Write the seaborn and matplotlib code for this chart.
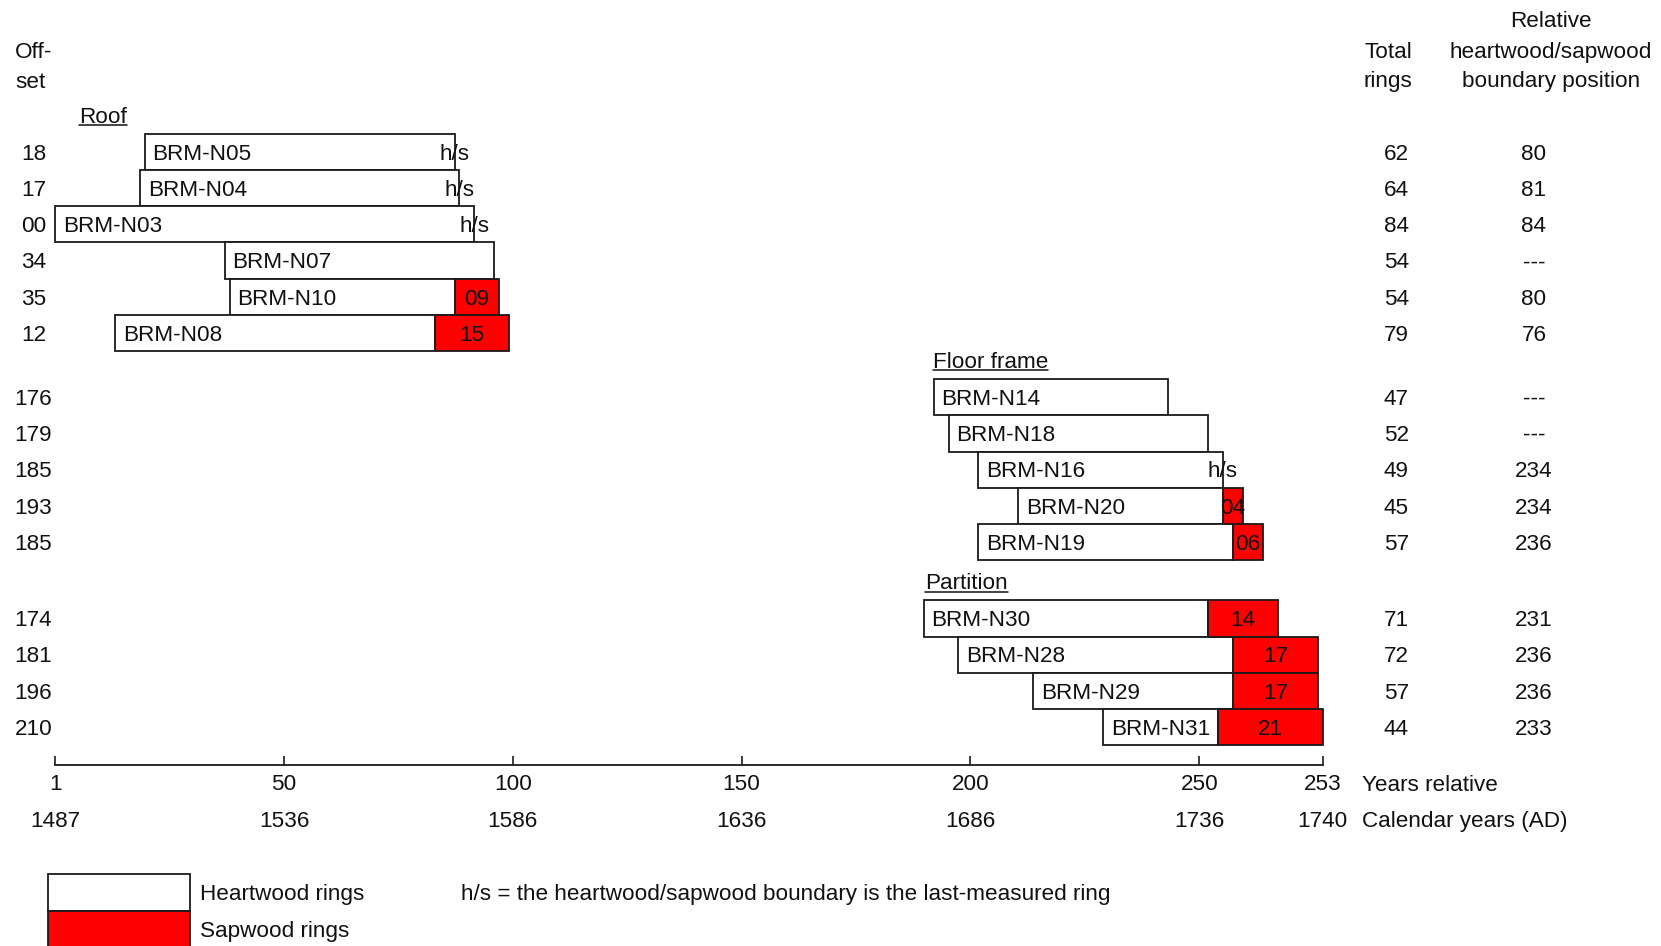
import matplotlib
matplotlib.use("Agg")
import matplotlib.pyplot as plt
from matplotlib.patches import Rectangle
import seaborn as sns

# ---------------- data ----------------
samples = ["BRM-N05", "BRM-N04", "BRM-N03", "BRM-N07", "BRM-N10", "BRM-N08",
           "BRM-N14", "BRM-N18", "BRM-N16", "BRM-N20", "BRM-N19",
           "BRM-N30", "BRM-N28", "BRM-N29", "BRM-N31"]
groups = ["Roof"] * 6 + ["Floor frame"] * 5 + ["Partition"] * 4
offsets = [18, 17, 0, 34, 35, 12, 176, 179, 185, 193, 185, 174, 181, 196, 210]
total_rings = [62, 64, 84, 54, 54, 79, 47, 52, 49, 45, 57, 71, 72, 57, 44]
sapwood_rings = [0, 0, 0, 0, 9, 15, 0, 0, 0, 4, 6, 14, 17, 17, 21]
hs_last_ring = [True, True, True, False, False, False,
                False, False, True, False, False,
                False, False, False, False]
boundary_pos = ["80", "81", "84", "---", "80", "76",
                "---", "---", "234", "234", "236",
                "231", "236", "236", "233"]
rel_tick_labels = ["1", "50", "100", "150", "200", "250", "253"]
cal_tick_labels = ["1487", "1536", "1586", "1636", "1686", "1736", "1740"]

# ---------------- layout ----------------
W, H = 1661, 946
PX = 4.99          # pixels per ring
X0 = 55.3          # pixel of relative year origin
AXIS_Y = 765
ROW_H = 36.25
group_order = ["Roof", "Floor frame", "Partition"]
group_top = {"Roof": 133.7, "Floor frame": 379.0, "Partition": 600.3}
group_head_x = {"Roof": 78.7, "Floor frame": 933.0, "Partition": 925.0}
tick_pos = [0, 45.85, 91.7, 137.55, 183.4, 229.25, 254]
FS = 16.2
BL = 7.8  # baseline offset below a row centre
RED = "#ff0000"
EDGE = "#1a1a1a"

sns.set_theme(style="white")
plt.rcParams["font.family"] = ["Liberation Sans", "DejaVu Sans"]

fig = plt.figure(figsize=(W / 100, H / 100), dpi=100)
ax = fig.add_axes([0, 0, 1, 1])
ax.set_xlim(-X0 / PX, (W - X0) / PX)
ax.set_ylim(H, 0)
ax.set_facecolor("white")

# row centres
ys = []
counter = {g: 0 for g in group_order}
for g in groups:
    ys.append(group_top[g] + ROW_H * (counter[g] + 0.5))
    counter[g] += 1

heart = [t - s for t, s in zip(total_rings, sapwood_rings)]
sap_left = [o + h for o, h in zip(offsets, heart)]

ax.barh(ys, heart, left=offsets, height=ROW_H, color="white",
        edgecolor=EDGE, linewidth=1.3, zorder=2)
sap_idx = [i for i, s in enumerate(sapwood_rings) if s > 0]
ax.barh([ys[i] for i in sap_idx], [sapwood_rings[i] for i in sap_idx],
        left=[sap_left[i] for i in sap_idx], height=ROW_H, color=RED,
        edgecolor=EDGE, linewidth=1.3, zorder=2)

for i, name in enumerate(samples):
    ax.text(offsets[i] + 7.5 / PX, ys[i] + BL, name, ha="left", va="baseline",
            fontsize=FS, color="#111111", zorder=3)
    if sapwood_rings[i] > 0:
        ax.text(sap_left[i] + sapwood_rings[i] / 2, ys[i] + BL,
                f"{sapwood_rings[i]:02d}", ha="center", va="baseline",
                fontsize=FS, color="#111111", zorder=3)
    if hs_last_ring[i]:
        ax.text(offsets[i] + total_rings[i], ys[i] + BL, "h/s", ha="center",
                va="baseline", fontsize=FS, color="#111111", zorder=3)

# x axis
for s in ["top", "left", "right"]:
    ax.spines[s].set_visible(False)
ax.spines["bottom"].set_position(("data", AXIS_Y))
ax.spines["bottom"].set_bounds(0, 254)
ax.spines["bottom"].set_color(EDGE)
ax.spines["bottom"].set_linewidth(1.3)
ax.set_yticks([])
ax.set_xticks(tick_pos, labels=rel_tick_labels)
ax.tick_params(axis="x", direction="in", length=6.5, width=1.2, color=EDGE,
               labelsize=FS, labelcolor="#111111", pad=6.6, bottom=True)
for p, lab in zip(tick_pos, cal_tick_labels):
    ax.text(p, 819 + BL, lab, ha="center", va="baseline", fontsize=FS,
            color="#111111")

# overlay in pixel coordinates for the table and legend
ov = fig.add_axes([0, 0, 1, 1], facecolor="none")
ov.set_xlim(0, W)
ov.set_ylim(H, 0)
ov.axis("off")

def t(x, y, s, ha="left"):
    return ov.text(x, y, s, ha=ha, va="baseline", fontsize=FS, color="#111111")

t(15, 57.8, "Off-")
t(15, 87.5, "set")
t(1388, 57.8, "Total", ha="center")
t(1388, 87.5, "rings", ha="center")
t(1550.7, 27.0, "Relative", ha="center")
t(1550.7, 57.8, "heartwood/sapwood", ha="center")
t(1550.7, 87.5, "boundary position", ha="center")

for i in range(len(samples)):
    t(33.5, ys[i] + BL, f"{offsets[i]:02d}", ha="center")
    t(1396.5, ys[i] + BL, str(total_rings[i]), ha="center")
    t(1534, ys[i] + BL, boundary_pos[i], ha="center")

t(1362, 783 + BL, "Years relative")
t(1362, 819 + BL, "Calendar years (AD)")

heads = []
for g in group_order:
    heads.append(t(group_head_x[g], group_top[g] - 11.0, g))

# legend
ov.add_patch(Rectangle((48.3, 874.3), 141.7, 36.4, facecolor="white",
                       edgecolor=EDGE, linewidth=1.3))
ov.add_patch(Rectangle((48.3, 910.7), 141.7, 36.4, facecolor=RED,
                       edgecolor=EDGE, linewidth=1.3))
t(200, 891.7 + BL, "Heartwood rings")
t(200, 929 + BL, "Sapwood rings")
t(461, 891.7 + BL, "h/s = the heartwood/sapwood boundary is the last-measured ring")

# underline section headings
fig.canvas.draw()
r = fig.canvas.get_renderer()
for g, tx in zip(group_order, heads):
    bb = tx.get_window_extent(renderer=r)
    yb = group_top[g] - 11.0 + 2.3
    ov.plot([bb.x0, bb.x1], [yb, yb], color="#111111", lw=1.1)

fig.savefig("out.png", dpi=100, facecolor="white")
